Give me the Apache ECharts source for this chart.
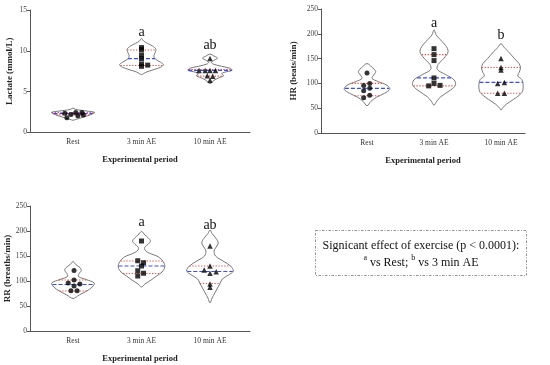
<!DOCTYPE html>
<html><head><meta charset="utf-8">
<script src="https://cdn.jsdelivr.net/npm/echarts@6/dist/echarts.min.js"></script>
<style>html,body{margin:0;padding:0;background:#fff}#c{width:550px;height:365px}</style>
</head><body><div id="c"></div>
<script>
const categories = ['Rest', '3 min AE', '10 min AE'];
const xTitle = 'Experimental period';

// ---- Lactate (mmol/L) ----
const lacProfileRest = [[3.0,0],[2.85,0.03],[2.7,0.13],[2.5,0.31],[2.4,0.31],[2.2,0.26],[2.0,0.2],[1.8,0.12],[1.6,0.04],[1.5,0]];
const lacProfile3 = [[11.5,0],[11.2,0.03],[10.9,0.09],[10.6,0.16],[10.2,0.21],[9.8,0.2],[9.4,0.18],[9.0,0.2],[8.6,0.28],[8.3,0.32],[8.0,0.28],[7.7,0.18],[7.4,0.07],[7.1,0]];
const lacProfile10 = [[9.6,0],[9.35,0.06],[9.1,0.11],[8.85,0.06],[8.6,0.02],[8.4,0.04],[8.1,0.17],[7.85,0.3],[7.6,0.32],[7.4,0.22],[7.2,0.17],[6.95,0.2],[6.7,0.13],[6.4,0.06],[6.0,0]];
const lacQuartiles = [[2.15,2.3,2.45],[8.2,9.05,10.1],[6.9,7.6,7.7]];
const lacPointsRest = [2.35,1.8,2.2,2.45,2.05,2.45,2.15];
const lacJitterRest = [-0.12,-0.09,-0.03,0.04,0.07,0.13,0.15];
const lacPoints3 = [10.4,10.15,9.5,9.05,8.4,8.1,8.25];
const lacJitter3 = [0,0,0,0,0,0,0.09];
const lacPoints10 = [9.05,7.6,7.6,7.6,7.6,6.95,6.9,6.4];
const lacJitter10 = [0,-0.16,-0.07,0,0.08,-0.04,0.04,0];
const lacLetters = ['', 'a', 'ab'];
const lacLetterVals = [0, 12.3, 10.7];

// ---- HR (beats/min) ----
const hrProfileRest = [[140,0],[133,0.07],[124,0.13],[117,0.1],[110,0.075],[104,0.16],[96,0.3],[88,0.34],[80,0.26],[72,0.14],[64,0.06],[55,0]];
const hrProfile3 = [[208,0],[198,0.03],[190,0.08],[177,0.17],[164,0.21],[151,0.15],[138,0.06],[128,0.05],[118,0.17],[107,0.3],[97,0.32],[87,0.25],[73,0.1],[64,0.04],[56,0]];
const hrProfile10 = [[180,0],[172,0.05],[164,0.11],[150,0.2],[140,0.27],[131,0.29],[122,0.27],[115,0.25],[108,0.31],[98,0.33],[84,0.32],[76,0.27],[68,0.19],[58,0.08],[50,0.02],[46,0]];
const hrQuartiles = [[75,90,100],[95,111,158],[80,102,132]];
const hrPointsRest = [121,100,96,90,85,76,71];
const hrJitterRest = [0,0.04,-0.05,0.04,-0.05,0.04,-0.05];
const hrPoints3 = [170,158,146,111,100,95,96];
const hrJitter3 = [0,0,0,0,0,-0.08,0.09];
const hrPoints10 = [150,132,127,100,102,80,80];
const hrJitter10 = [0,0,0,-0.05,0.05,-0.05,0.05];
const hrLetters = ['', 'a', 'b'];
const hrLetterVals = [0, 222, 196];

// ---- RR (breaths/min) ----
const rrProfileRest = [[139,0],[133,0.04],[127,0.1],[121,0.12],[115,0.09],[109,0.08],[103,0.19],[96,0.31],[88,0.28],[80,0.2],[72,0.09],[65,0]];
const rrProfile3 = [[199,0],[192,0.05],[186,0.1],[180,0.13],[174,0.1],[168,0.05],[162,0.05],[156,0.11],[148,0.25],[138,0.32],[128,0.34],[118,0.3],[110,0.22],[102,0.14],[94,0.05],[88,0]];
const rrProfile10 = [[202,0],[195,0.03],[185,0.09],[176,0.12],[168,0.09],[160,0.06],[150,0.08],[140,0.19],[130,0.3],[120,0.34],[112,0.27],[104,0.18],[96,0.15],[86,0.11],[76,0.07],[66,0.03],[56,0]];
const rrQuartiles = [[80,93,102],[115,130,140],[95,119,130]];
const rrPointsRest = [121,102,96,90,94,80.5,80.5];
const rrJitterRest = [0.015,0.015,-0.07,0.015,0.1,-0.03,0.06];
const rrPoints3 = [180,140.5,136.5,130,120.5,115.5,110];
const rrJitter3 = [0,-0.055,0.03,0,-0.055,0.03,-0.055];
const rrPoints10 = [170,130,122,115.5,118.5,94,87.5];
const rrJitter10 = [0,0,-0.085,0,0.09,0,0];
const rrLetters = ['', 'a', 'ab'];
const rrLetterVals = [0, 218, 212];

const noteLine1 = 'Signicant effect of exercise (p < 0.0001):';
const noteLine2 = ['a', ' vs Rest; ', 'b', ' vs 3 min AE'];

const SERIF = '"Liberation Serif","Times New Roman",serif';
const panels = [
  {grid:{left:30,width:220,top:10,height:122.5}, xMin:0.372, xMax:3.584, yMax:15, yInt:5, yName:'Lactate (mmol/L)', yGap:16,
   profiles:[lacProfileRest,lacProfile3,lacProfile10], quart:lacQuartiles,
   points:[lacPointsRest,lacPoints3,lacPoints10], jitter:[lacJitterRest,lacJitter3,lacJitter10],
   letters:lacLetters, letterVals:lacLetterVals},
  {grid:{left:321,width:204,top:9,height:124}, xMin:0.313, xMax:3.358, yMax:250, yInt:50, yName:'HR (beats/min)', yGap:23,
   profiles:[hrProfileRest,hrProfile3,hrProfile10], quart:hrQuartiles,
   points:[hrPointsRest,hrPoints3,hrPoints10], jitter:[hrJitterRest,hrJitter3,hrJitter10],
   letters:hrLetters, letterVals:hrLetterVals},
  {grid:{left:30,width:220,top:206,height:125}, xMin:0.372, xMax:3.584, yMax:250, yInt:50, yName:'RR (breaths/min)', yGap:17,
   profiles:[rrProfileRest,rrProfile3,rrProfile10], quart:rrQuartiles,
   points:[rrPointsRest,rrPoints3,rrPoints10], jitter:[rrJitterRest,rrJitter3,rrJitter10],
   letters:rrLetters, letterVals:rrLetterVals}
];

function hwAt(profile, v) {
  for (let i = 0; i < profile.length - 1; i++) {
    const [v1, w1] = profile[i], [v2, w2] = profile[i + 1];
    if ((v <= v1 && v >= v2)) { const t = (v1 - v) / (v1 - v2 || 1); return w1 + (w2 - w1) * t; }
  }
  return 0;
}

const grid = [], xAxis = [], yAxis = [], series = [];
const symbols = ['circle', 'rect', 'triangle'];
panels.forEach((p, gi) => {
  grid.push(p.grid);
  xAxis.push({type:'value', gridIndex:gi, min:p.xMin, max:p.xMax, name:xTitle, nameLocation:'middle', nameGap:23,
    nameTextStyle:{fontFamily:SERIF, fontWeight:'bold', fontSize:8.5, color:'#222'},
    axisLine:{show:true, onZero:false, lineStyle:{color:'#555', width:1}}, axisTick:{show:false}, splitLine:{show:false},
    axisLabel:{customValues:[1,2,3], formatter:v => categories[Math.round(v) - 1], fontFamily:SERIF, fontSize:7.5, color:'#333', margin:6}});
  yAxis.push({type:'value', gridIndex:gi, min:0, max:p.yMax, interval:p.yInt, name:p.yName, nameLocation:'middle', nameGap:p.yGap,
    nameTextStyle:{fontFamily:SERIF, fontWeight:'bold', fontSize:9, color:'#222'},
    axisLine:{show:true, lineStyle:{color:'#555', width:1}}, axisTick:{show:true, length:3, lineStyle:{color:'#555'}},
    splitLine:{show:false}, axisLabel:{fontFamily:SERIF, fontSize:7.5, color:'#444', margin:3}});
  series.push({type:'custom', xAxisIndex:gi, yAxisIndex:gi, silent:true, data:[[1],[2],[3]],
    renderItem:(params, api) => {
      const prof = p.profiles[params.dataIndex], cx = api.value(0);
      const right = prof.map(([v, w]) => api.coord([cx + w, v]));
      const left = prof.slice(1, -1).reverse().map(([v, w]) => api.coord([cx - w, v]));
      return {type:'polygon', shape:{points:right.concat(left), smooth:0.35},
        style:{fill:'none', stroke:'#6a6a6a', lineWidth:0.9}};
    }});
  const qdata = [];
  p.quart.forEach((q, i) => { qdata.push([i + 1, q[0], 0]); qdata.push([i + 1, q[2], 0]); qdata.push([i + 1, q[1], 1]); });
  series.push({type:'custom', xAxisIndex:gi, yAxisIndex:gi, silent:true, data:qdata, z:3,
    renderItem:(params, api) => {
      const cx = api.value(0), v = api.value(1), kind = api.value(2);
      const w = hwAt(p.profiles[cx - 1], v);
      const a = api.coord([cx - w, v]), b = api.coord([cx + w, v]);
      return {type:'line', shape:{x1:a[0], y1:a[1], x2:b[0], y2:b[1]},
        style: kind === 0 ? {stroke:'#ee4a44', lineWidth:1.1, lineDash:[1.3,1.6]} : {stroke:'#3a4cf0', lineWidth:1.2, lineDash:[4,2]}};
    }});
  p.points.forEach((vals, i) => {
    series.push({type:'scatter', xAxisIndex:gi, yAxisIndex:gi, symbol:symbols[i], symbolSize: i === 0 ? 5 : (i === 1 ? 5 : 5.5), z:4, silent:true,
      itemStyle:{color:'#000'}, data: vals.map((v, k) => [i + 1 + p.jitter[i][k], v])});
  });
  series.push({type:'custom', xAxisIndex:gi, yAxisIndex:gi, silent:true,
    data: p.letters.map((l, i) => [i + 1, p.letterVals[i]]).filter((d, i) => p.letters[i]),
    renderItem:(params, api) => {
      const c = api.coord([api.value(0), api.value(1)]);
      const txt = p.letters[Math.round(api.value(0)) - 1];
      return {type:'text', x:c[0], y:c[1], style:{text:txt, fontFamily:SERIF, fontSize:14, fill:'#111', align:'center', verticalAlign:'middle'}};
    }});
});

const chart = echarts.init(document.getElementById('c'), null, {renderer:'canvas'});
chart.setOption({
  animation:false,
  backgroundColor:'#fff',
  grid, xAxis, yAxis, series,
  graphic:[
    {type:'rect', shape:{x:315.5, y:230.5, width:211, height:45}, style:{fill:'none', stroke:'#777', lineWidth:0.8, lineDash:[2.5,1.5,1,1.5]}},
    {type:'text', x:421, y:246, style:{text:noteLine1, fontFamily:SERIF, fontSize:12, fill:'#111', align:'center', verticalAlign:'middle'}},
    {type:'text', x:421, y:261, style:{
      text:'{s|' + noteLine2[0] + '}{n|' + noteLine2[1] + '}{s|' + noteLine2[2] + '}{n|' + noteLine2[3] + '}',
      align:'center', verticalAlign:'middle',
      rich:{
        s:{fontSize:8, fontFamily:SERIF, fill:'#111', verticalAlign:'top', lineHeight:8},
        n:{fontSize:12, fontFamily:SERIF, fill:'#111', verticalAlign:'bottom', lineHeight:15}}}}
  ]
});
</script></body></html>
